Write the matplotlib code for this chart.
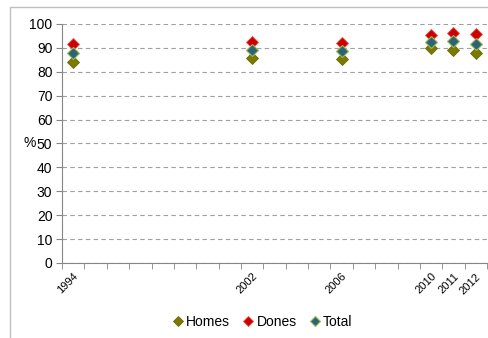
import matplotlib.pyplot as plt
import matplotlib as mpl
import numpy as np

plt.rcParams['font.family'] = ['Liberation Sans', 'DejaVu Sans']

# data
years = [1994, 2002, 2006, 2010, 2011, 2012]
homes = [84.1, 85.6, 85.2, 90.1, 89.1, 88.0]
dones = [91.6, 92.6, 92.2, 95.5, 96.2, 95.7]
total = [87.9, 89.0, 88.7, 92.6, 92.8, 91.8]

first_year, last_year = 1994, 2012

fig = plt.figure(figsize=(4.89, 3.38), dpi=100)
ax = fig.add_axes([0.127, 0.222, 0.869, 0.707])

x = np.array(years) - first_year
ax.plot(x, homes, ls="none", marker="D", ms=6, color="#7A7A00", mec="#6B6B00", mew=0.6, label="Homes")
ax.plot(x, dones, ls="none", marker="D", ms=6, color="#CC0000", mec="#E85040", mew=0.6, label="Dones")
ax.plot(x, total, ls="none", marker="D", ms=6, color="#2C6475", mec="#9BBB59", mew=0.8, label="Total")

n = last_year - first_year + 1
ax.set_xlim(-0.5, n - 0.5)
ax.set_ylim(0, 100)

# category axis: labels at centres, tick marks at boundaries
ax.set_xticks(x)
ax.set_xticklabels([str(y) for y in years], rotation=45, ha="right",
                   rotation_mode="anchor", fontsize=8)
ax.tick_params(axis="x", which="major", length=0, pad=6)
ax.set_xticks(np.arange(n + 1) - 0.5, minor=True)
ax.tick_params(axis="x", which="minor", length=4, color="#868686", direction="out")

ax.set_yticks(np.arange(0, 101, 10))
ax.tick_params(axis="y", labelsize=10, length=4, color="#868686", pad=3)
ax.set_ylabel("%", rotation=0, fontsize=10, labelpad=0, va="center")

ax.grid(axis="y", ls=(0, (4, 3)), color="#A0A0A0", lw=0.8)
ax.set_axisbelow(True)
for s in ["top", "right"]:
    ax.spines[s].set_visible(False)
for s in ["left", "bottom"]:
    ax.spines[s].set_color("#868686")

# outer chart frame
fig.add_artist(mpl.patches.Rectangle((10 / 489, -0.1), 1.2, 1.1 - 7 / 338,
                                     transform=fig.transFigure, fill=False,
                                     ec="#BFBFBF", lw=1))

fig.legend(loc="center", bbox_to_anchor=(0.535, 1 - 322 / 338), ncol=3,
           frameon=False, fontsize=10, handletextpad=0.1, columnspacing=0.8,
           handlelength=1.0, markerscale=0.9)

fig.savefig("out.png", dpi=100)
